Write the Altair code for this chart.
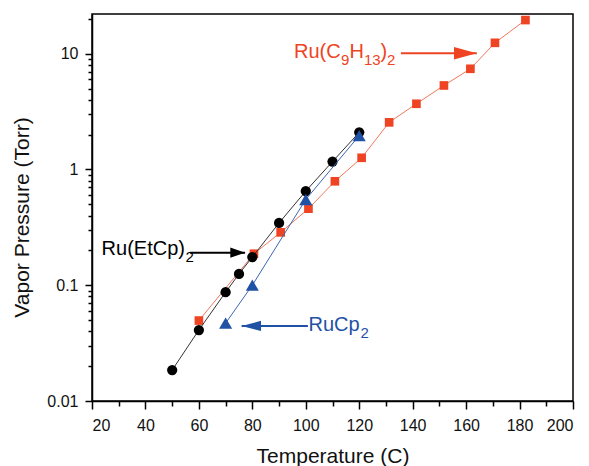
import altair as alt
import pandas as pd

# ---- data ----
etcp_t = [50, 60, 70, 75, 80, 90, 100, 110, 120]
etcp_p = [0.0185, 0.041, 0.087, 0.125, 0.175, 0.345, 0.65, 1.17, 2.09]

cp_t = [70, 80, 100, 120]
cp_p = [0.047, 0.10, 0.55, 1.96]

c9_t = [60, 80.6, 90.6, 101, 110.9, 120.9, 131.2, 141.4, 151.7, 161.6, 170.8, 182.2]
c9_p = [0.0495, 0.187, 0.286, 0.458, 0.79, 1.26, 2.55, 3.69, 5.31, 7.4, 12.4, 19.5]

x_major = list(range(20, 201, 20))
x_minor = list(range(30, 200, 20))
y_major = [0.01, 0.1, 1, 10]
y_minor = [round(m * 10 ** e, 4) for e in (-2, -1, 0, 1) for m in range(2, 10)]
y_minor = [v for v in y_minor if v <= 22]

RED = "#ee4423"
BLUE = "#1f52a5"
BLACK = "#000000"
FONT = "Liberation Sans"

# annotation anchors (data units): anchor T, anchor P, color, pieces (text, dx, dy, size)
labels = [
    (95.6, 9.2, RED, [("Ru(C", 0, 0, 20), ("9", 47, 7, 15), ("H", 55.5, 0, 20),
                      ("13", 70, 7, 15), (")", 86.5, 0, 20), ("2", 93, 7, 15)]),
    (23.6, 0.1824, BLACK, [("Ru(EtCp)", 0, 0, 20), ("2", 84, 7, 15)]),
    (101.0, 0.0403, BLUE, [("RuCp", 0, 0, 20), ("2", 52, 7, 15)]),
]
# arrows: T start, T tip, P, color, head path
arrows = [
    (135.6, 164.0, 10.07, RED, "M0,0L-2,-0.55L-2,0.55Z"),
    (56.7, 77.3, 0.191, BLACK, "M0,0L-1.3,-0.45L-1.3,0.45Z"),
    (100.8, 76.0, 0.0445, BLUE, "M0,0L1.7,-0.45L1.7,0.45Z"),
]

xscale = alt.Scale(domain=[20, 200], nice=False, zero=False)
yscale = alt.Scale(type="log", domain=[0.01, 22], nice=False)

xaxis = alt.Axis(
    values=x_major, tickSize=8, format="d",
    title="Temperature (C)", labelPadding=8, titlePadding=12,
)
yaxis = alt.Axis(
    values=y_major, tickSize=7,
    labelExpr="toString(datum.value)",
    title="Vapor Pressure (Torr)", labelPadding=7, titlePadding=14, titleY=203,
)
xaxis_minor = alt.Axis(values=x_minor, tickSize=5, labels=False, domain=False,
                       title="", orient="bottom")
yaxis_minor = alt.Axis(values=y_minor, tickSize=4, labels=False, domain=False,
                       title="", orient="left")

def series(t, p, color, shape, size, line_color):
    df = pd.DataFrame({"T": t, "P": p})
    base = alt.Chart(df).encode(
        x=alt.X("T:Q", scale=xscale, axis=xaxis),
        y=alt.Y("P:Q", scale=yscale, axis=yaxis),
    )
    line = base.mark_line(color=line_color, strokeWidth=1)
    pts = base.mark_point(shape=shape, filled=True, size=size, color=color, opacity=1)
    return [line, pts]

layers = []
layers += series(c9_t, c9_p, RED, "square", 75, "#f2785c")
layers += series(etcp_t, etcp_p, BLACK, "circle", 105, "#333333")
layers += series(cp_t, cp_p, BLUE, "triangle-up", 170, "#3a66b5")

for t0, t1, p, color, head in arrows:
    adf = pd.DataFrame({"T": [t0], "T2": [t1], "P": [p]})
    layers.append(
        alt.Chart(adf).mark_rule(color=color, strokeWidth=2).encode(
            x=alt.X("T:Q", scale=xscale), x2="T2:Q", y=alt.Y("P:Q", scale=yscale)
        )
    )
    layers.append(
        alt.Chart(adf).mark_point(shape=head, filled=True, size=520, color=color, opacity=1, strokeWidth=0).encode(
            x=alt.X("T2:Q", scale=xscale), y=alt.Y("P:Q", scale=yscale)
        )
    )

for t, p, color, pieces in labels:
    for text, dx, dy, size in pieces:
        ldf = pd.DataFrame({"T": [t], "P": [p], "txt": [text]})
        layers.append(
            alt.Chart(ldf).mark_text(
                align="left", baseline="alphabetic", dx=dx, dy=dy,
                fontSize=size, font=FONT, color=color
            ).encode(
                x=alt.X("T:Q", scale=xscale), y=alt.Y("P:Q", scale=yscale), text="txt:N"
            )
        )

main = alt.layer(*layers)

minor = alt.Chart(pd.DataFrame({"T": c9_t, "P": c9_p})).mark_point(opacity=0).encode(
    x=alt.X("T:Q", scale=xscale, axis=xaxis_minor),
    y=alt.Y("P:Q", scale=yscale, axis=yaxis_minor),
)

chart = alt.layer(main, minor).resolve_axis(x="independent", y="independent").properties(
    width=481, height=387,
    autosize=alt.AutoSizeParams(type="none"),
    padding={"left": 92, "top": 14, "right": 16, "bottom": 65},
).configure_view(
    stroke=BLACK, strokeWidth=1.5
).configure_axis(
    grid=False,
    domainColor=BLACK, domainWidth=1.5,
    tickColor=BLACK, tickWidth=1.5,
    labelFont=FONT, labelFontSize=16, labelColor="#111111",
    titleFont=FONT, titleFontSize=21, titleFontWeight="normal", titleColor="#111111",
)

chart.save("out.html", embed_options={"renderer": "svg", "actions": False})
